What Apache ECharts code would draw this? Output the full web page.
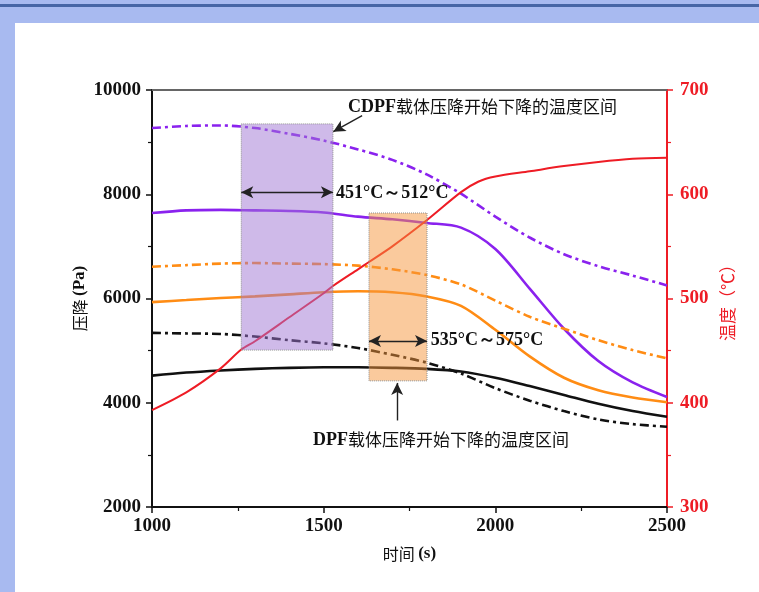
<!DOCTYPE html>
<html><head><meta charset="utf-8">
<script src="https://cdn.jsdelivr.net/npm/echarts@6/dist/echarts.min.js"></script>
<style>
html,body{margin:0;padding:0;width:759px;height:592px;overflow:hidden;background:#a8baf0}
#band{position:absolute;left:0;top:4px;width:759px;height:3px;background:#4766a6}
#paper{position:absolute;left:15px;top:23px;right:0;bottom:0;background:#fff}
#c{position:absolute;left:0;top:0;width:759px;height:592px}
</style>
</head><body><div id="band"></div><div id="paper"></div><div id="c"></div>
<script>
// ---- data ----
const times = [1000,1100,1200,1300,1400,1500,1600,1700,1800,1900,2000,2100,2200,2300,2400,2500];
const cdpfDash  = [9270,9310,9320,9270,9160,9030,8860,8660,8380,8010,7570,7170,6850,6620,6440,6250];
const cdpfSolid = [7640,7690,7700,7690,7680,7650,7570,7520,7450,7360,6950,6190,5420,4800,4390,4110];
const dpfDash   = [6610,6640,6670,6680,6670,6660,6630,6560,6450,6270,5960,5650,5420,5200,5010,4850];
const dpfSolid  = [5930,5970,6010,6040,6080,6120,6140,6120,6040,5860,5400,4890,4480,4240,4100,4010];
const blkDash   = [5340,5330,5320,5270,5200,5140,5050,4920,4770,4560,4280,4040,3840,3680,3590,3540];
const blkSolid  = [4520,4580,4620,4650,4670,4680,4680,4670,4650,4600,4480,4320,4150,3980,3840,3730];
const tempTimes = [1000,1100,1200,1260,1300,1400,1500,1527,1600,1632,1700,1800,1900,1950,2000,2100,2200,2300,2400,2500];
const temps     = [393,410,433,451,459,482,505,512,528,535,550,575,602,612,617,622,627,631,634,635];
const xTicks = [1000,1500,2000,2500];
const pTicks = [2000,4000,6000,8000,10000];
const tTicks = [300,400,500,600,700];
const cdpfBox = [1260,1527,9350,5010];
const dpfBox  = [1632,1801,7640,4420];
const cdpfRangeText = '451°C～512°C';
const dpfRangeText  = '535°C～575°C';
const cdpfLabel = ['CDPF','载体压降开始下降的温度区间'];
const dpfLabel  = ['DPF','载体压降开始下降的温度区间'];

const zip = (xs, ys) => xs.map((x,i)=>[x, ys[i]]);
const serif = 'Liberation Serif, Times New Roman, serif';
const cjk = 'Noto Sans CJK SC, sans-serif';
const PURPLE='#8a22ee', ORANGE='#ff8c14', BLACK='#111', RED='#ee1c25';
const DASHDOT=[9,4,3,4];

const tickFont = {fontFamily: serif, fontWeight:'bold', fontSize:19, formatter: v => String(v)};

function lineSeries(data, color, dash, yIdx){
  return {type:'line', data, yAxisIndex: yIdx||0, showSymbol:false, smooth:0.3,
    lineStyle:{color, width: yIdx?2:2.6, type: dash?DASHDOT:'solid'}, itemStyle:{color}, z:3, silent:true};
}

const chart = echarts.init(document.getElementById('c'));
const option = {
  backgroundColor:'transparent',
  animation:false,
  grid:{left:152, right:92, top:90, bottom:85},
  xAxis:[{
    type:'value', min:xTicks[0], max:xTicks[xTicks.length-1], interval:500,
    name:'{c|时间} {b|(s)}', nameLocation:'middle', nameGap:38, nameMoveOverlap:false,
    nameTextStyle:{rich:{c:{fontFamily:cjk,fontSize:16,color:'#111'}, b:{fontFamily:serif,fontWeight:'bold',fontSize:17,color:'#111'}}},
    axisLine:{lineStyle:{color:'#111',width:2}},
    axisTick:{show:true, inside:false, length:6, lineStyle:{color:'#111',width:1.5}},
    minorTick:{show:true, splitNumber:2, length:4, lineStyle:{color:'#111',width:1.2}},
    splitLine:{show:false},
    axisLabel:{...tickFont, color:'#111', margin:10}
  },{
    type:'value', position:'top', min:xTicks[0], max:xTicks[xTicks.length-1],
    axisLine:{show:true, lineStyle:{color:'#666',width:2}},
    axisTick:{show:false}, axisLabel:{show:false}, splitLine:{show:false}
  }],
  yAxis:[{
    type:'value', min:pTicks[0], max:pTicks[pTicks.length-1], interval:2000, position:'left',
    name:'{c|压降} {b|(Pa)}', nameLocation:'middle', nameGap:64, nameRotate:90, nameMoveOverlap:false,
    nameTextStyle:{rich:{c:{fontFamily:cjk,fontSize:16,color:'#111'}, b:{fontFamily:serif,fontWeight:'bold',fontSize:17,color:'#111'}}},
    axisLine:{show:true, lineStyle:{color:'#111',width:2}},
    axisTick:{show:true, length:6, lineStyle:{color:'#111',width:1.5}},
    minorTick:{show:true, splitNumber:2, length:4, lineStyle:{color:'#111',width:1.2}},
    splitLine:{show:false},
    axisLabel:{...tickFont, color:'#111', margin:11}
  },{
    type:'value', min:tTicks[0], max:tTicks[tTicks.length-1], interval:100, position:'right',
    name:'温度（℃）', nameLocation:'middle', nameGap:52, nameRotate:90, nameMoveOverlap:false,
    nameTextStyle:{fontFamily:cjk, fontSize:17, color:RED},
    axisLine:{show:true, lineStyle:{color:RED,width:2}},
    axisTick:{show:true, length:6, lineStyle:{color:RED,width:1.5}},
    minorTick:{show:true, splitNumber:2, length:4, lineStyle:{color:RED,width:1.2}},
    splitLine:{show:false},
    axisLabel:{...tickFont, color:RED, margin:13}
  }],
  series:[
    lineSeries(zip(times,cdpfDash), PURPLE, true),
    lineSeries(zip(times,cdpfSolid), PURPLE, false),
    lineSeries(zip(times,dpfDash), ORANGE, true),
    lineSeries(zip(times,dpfSolid), ORANGE, false),
    lineSeries(zip(times,blkDash), BLACK, true),
    lineSeries(zip(times,blkSolid), BLACK, false),
    lineSeries(zip(tempTimes,temps), RED, false, 1),
    {type:'line', data:[], z:10, silent:true,
      markArea:{silent:true, z:10, data:[
        [{xAxis:cdpfBox[0], yAxis:cdpfBox[2], itemStyle:{color:'rgba(160,118,212,0.5)', borderColor:'#8f8f8f', borderWidth:1, borderType:'dotted'}},
         {xAxis:cdpfBox[1], yAxis:cdpfBox[3]}],
        [{xAxis:dpfBox[0], yAxis:dpfBox[2], itemStyle:{color:'rgba(246,150,60,0.5)', borderColor:'#8f8f8f', borderWidth:1, borderType:'dotted'}},
         {xAxis:dpfBox[1], yAxis:dpfBox[3]}]
      ]},
      markLine:{silent:true, z:11, symbol:['arrow','arrow'], symbolSize:[9,12], label:{show:false},
        lineStyle:{color:'#222', width:1.4, type:'solid'},
        data:[
          [{coord:[cdpfBox[0],8040]},{coord:[cdpfBox[1],8040]}],
          [{coord:[dpfBox[0],5185]},{coord:[dpfBox[1],5185]}],
          [{coord:[1612,9510], symbol:'none'},{coord:[1528,9200], symbol:'arrow'}],
          [{coord:[1714,3660], symbol:'none'},{coord:[1714,4380], symbol:'arrow'}]
        ]}
    }
  ]
};
chart.setOption(option);

const px = (t,p) => chart.convertToPixel({xAxisIndex:0, yAxisIndex:0}, [t,p]);
const richLbl = {b:{fontFamily:serif,fontWeight:'bold',fontSize:18,fill:'#111'}, c:{fontFamily:cjk,fontSize:17,fill:'#111'}};
function txt(t,p,text,rich){
  const [x,y]=px(t,p);
  return {type:'text', x, y, z:20, style:{text, rich, fill:'#111', fontFamily:serif, fontWeight:'bold', fontSize:18, verticalAlign:'middle', align:'left'}};
}
chart.setOption({graphic:[
  txt(1536,8010, cdpfRangeText),
  txt(1812,5205, dpfRangeText),
  txt(1571,9674, '{b|'+cdpfLabel[0]+'}{c|'+cdpfLabel[1]+'}', richLbl),
  txt(1469,3286, '{b|'+dpfLabel[0]+'}{c|'+dpfLabel[1]+'}', richLbl)
]});
</script>
</body></html>
